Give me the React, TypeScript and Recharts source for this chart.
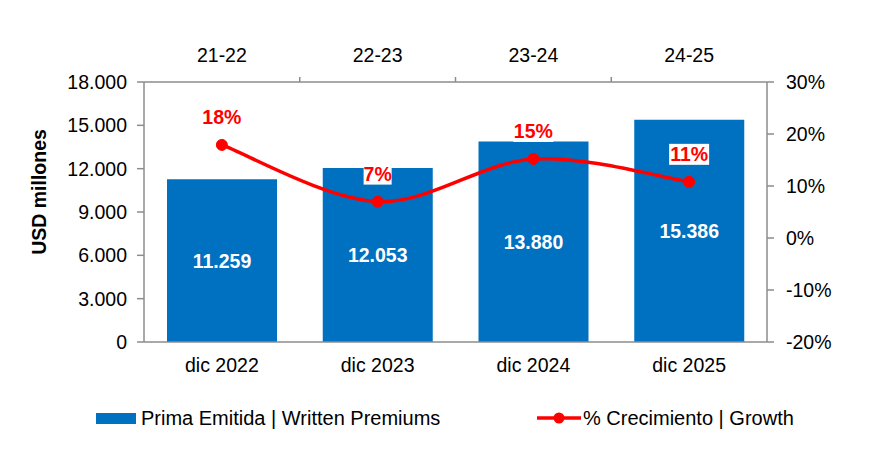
import { ComposedChart, Bar, Line, XAxis, YAxis, LabelList } from 'recharts';

const categories = ['dic 2022', 'dic 2023', 'dic 2024', 'dic 2025'];
const periods = ['21-22', '22-23', '23-24', '24-25'];
const premiums = [11259, 12053, 13880, 15386];
const growth = [17.9, 7.0, 15.2, 10.8];
const premiumTicks = [0, 3000, 6000, 9000, 12000, 15000, 18000];
const growthTicks = [-20, -10, 0, 10, 20, 30];

const BAR_NAME = 'Prima Emitida | Written Premiums';
const LINE_NAME = '% Crecimiento | Growth';

const W = 886;
const H = 449;
const LEFT_W = 144;
const RIGHT_W = 119;
const BAND = (W - LEFT_W - RIGHT_W) / categories.length;

const BLUE = '#0070C0';
const RED = '#FF0000';
const GRID = '#8C8C8C';
const FONT = '"Liberation Sans", Arial, sans-serif';
const FS = 19.5;

const data = categories.map((c, i) => ({
  name: c,
  period: periods[i],
  premium: premiums[i],
  growth: growth[i],
}));

const thousands = (v: number) => String(v).replace(/\B(?=(\d{3})+(?!\d))/g, '.');

// Excel-like smoothed line (Catmull-Rom through the points)
function smoothCurve(context: any) {
  let pts: number[][] = [];
  return {
    areaStart() {},
    areaEnd() {},
    lineStart() {
      pts = [];
    },
    point(x: number, y: number) {
      pts.push([+x, +y]);
    },
    lineEnd() {
      if (!pts.length) return;
      context.moveTo(pts[0][0], pts[0][1]);
      const t = 1 / 6;
      for (let i = 0; i < pts.length - 1; i++) {
        const p0 = pts[i - 1] || pts[i];
        const p1 = pts[i];
        const p2 = pts[i + 1];
        const p3 = pts[i + 2] || p2;
        context.bezierCurveTo(
          p1[0] + (p2[0] - p0[0]) * t,
          p1[1] + (p2[1] - p0[1]) * t,
          p2[0] - (p3[0] - p1[0]) * t,
          p2[1] - (p3[1] - p1[1]) * t,
          p2[0],
          p2[1]
        );
      }
    },
  };
}

const TopTick = (props: any) => {
  const { x, y, payload, index } = props;
  return (
    <g>
      <text x={x} y={y - 20} textAnchor="middle" fill="#000" fontSize={FS} fontFamily={FONT}>
        {payload.value}
      </text>
      {index < categories.length - 1 && (
        <line x1={x + BAND / 2} x2={x + BAND / 2} y1={y} y2={y - 5} stroke={GRID} strokeWidth={1.5} />
      )}
    </g>
  );
};

const GrowthLabel = (props: any) => {
  const { x, y, value } = props;
  const txt = `${Math.round(value)}%`;
  const w = txt.length * 12 + 4;
  return (
    <g>
      <rect x={x - w / 2} y={y - 38} width={w} height={21} fill="#fff" />
      <text x={x} y={y - 20.5} textAnchor="middle" fill={RED} fontWeight={700} fontSize={FS} fontFamily={FONT}>
        {txt}
      </text>
    </g>
  );
};

const YTitle = (props: any) => {
  const vb = props.viewBox;
  const cx = vb.x + 39;
  const cy = vb.y + vb.height / 2 - 20;
  return (
    <text
      x={cx}
      y={cy}
      transform={`rotate(-90 ${cx} ${cy})`}
      textAnchor="middle"
      dominantBaseline="central"
      fontWeight={700}
      fontSize={FS}
      fontFamily={FONT}
      fill="#000"
    >
      USD millones
    </text>
  );
};

export default function App() {
  const axisLine = { stroke: GRID, strokeWidth: 1.5 };
  const tickStyle = { fill: '#000', fontSize: FS, fontFamily: FONT };
  const legendStyle = {
    position: 'absolute' as const,
    top: 406,
    height: 24,
    display: 'flex',
    alignItems: 'center',
    fontFamily: FONT,
    fontSize: 20,
    color: '#000',
    whiteSpace: 'nowrap' as const,
  };
  return (
    <div style={{ position: 'absolute', left: 0, top: 0, width: W, height: H, background: '#fff' }}>
      <ComposedChart width={W} height={H} data={data} margin={{ top: 52, right: 0, bottom: 67, left: 0 }}>
        <XAxis
          xAxisId="top"
          dataKey="period"
          orientation="top"
          height={30}
          axisLine={axisLine}
          tickLine={false}
          tickSize={0}
          tickMargin={0}
          tick={<TopTick />}
        />
        <XAxis
          xAxisId="bottom"
          dataKey="name"
          height={40}
          axisLine={axisLine}
          tickLine={false}
          tickSize={0}
          tickMargin={16}
          tick={tickStyle}
        />
        <YAxis
          yAxisId="left"
          width={LEFT_W}
          domain={[0, 18000]}
          ticks={premiumTicks}
          tickFormatter={thousands}
          axisLine={axisLine}
          tickLine={axisLine}
          tickSize={7}
          tickMargin={10}
          tick={tickStyle}
          label={{ content: <YTitle /> }}
        />
        <YAxis
          yAxisId="right"
          orientation="right"
          width={RIGHT_W}
          domain={[-20, 30]}
          ticks={growthTicks}
          tickFormatter={(v: number) => `${v}%`}
          axisLine={axisLine}
          tickLine={axisLine}
          tickSize={7}
          tickMargin={12}
          tick={{ ...tickStyle, textAnchor: 'start' }}
        />
        <Bar
          xAxisId="bottom"
          yAxisId="left"
          dataKey="premium"
          name={BAR_NAME}
          fill={BLUE}
          barSize={110}
          isAnimationActive={false}
        >
          <LabelList
            dataKey="premium"
            position="center"
            formatter={(v: any) => thousands(v)}
            fill="#fff"
            fontWeight={700}
            fontSize={FS}
            fontFamily={FONT}
          />
        </Bar>
        <Line
          xAxisId="bottom"
          yAxisId="right"
          dataKey="growth"
          name={LINE_NAME}
          type={smoothCurve as any}
          stroke={RED}
          strokeWidth={3.5}
          dot={{ r: 5.5, fill: RED, stroke: RED, strokeWidth: 1 }}
          activeDot={false}
          isAnimationActive={false}
        >
          <LabelList dataKey="growth" content={<GrowthLabel />} />
        </Line>
      </ComposedChart>
      <div style={{ ...legendStyle, left: 96 }}>
        <span style={{ display: 'inline-block', width: 40, height: 11, background: BLUE, marginRight: 5 }} />
        <span>{BAR_NAME}</span>
      </div>
      <div style={{ ...legendStyle, left: 537 }}>
        <svg width={44} height={14} style={{ marginRight: 2 }}>
          <line x1={0} x2={44} y1={7} y2={7} stroke={RED} strokeWidth={3.5} />
          <circle cx={22} cy={7} r={5.5} fill={RED} />
        </svg>
        <span>{LINE_NAME}</span>
      </div>
    </div>
  );
}
